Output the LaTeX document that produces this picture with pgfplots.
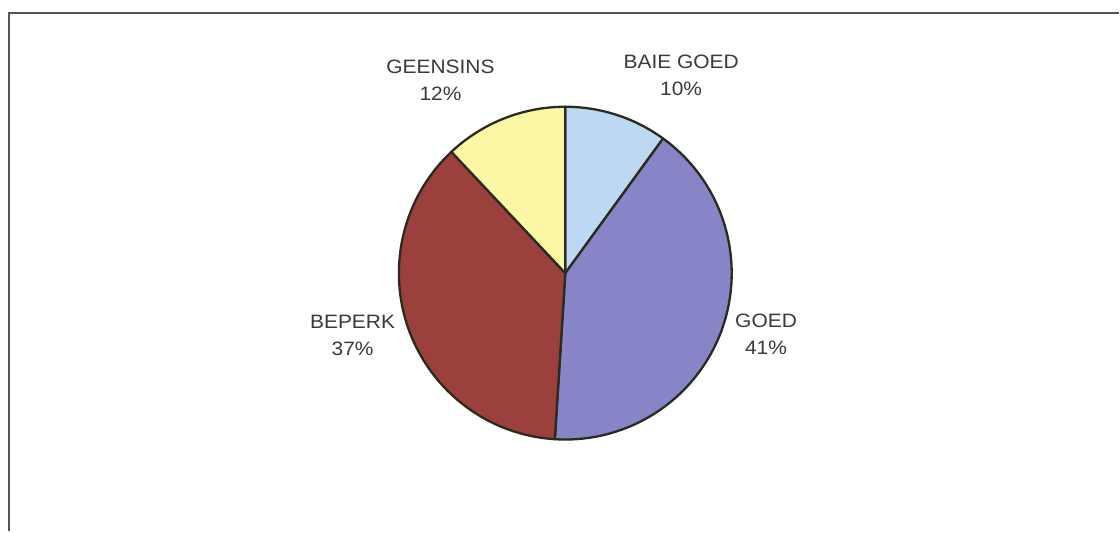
\documentclass[border=0pt]{standalone}
\usepackage{pgfplots}
\pgfplotsset{compat=1.18}
\usepackage{fontspec}
\setmainfont{Liberation Sans}
\definecolor{cBaie}{HTML}{BCD8F2}
\definecolor{cGoed}{HTML}{8784C8}
\definecolor{cBeperk}{HTML}{9B403D}
\definecolor{cGeen}{HTML}{FBF7A4}
\definecolor{edge}{HTML}{2A2A1E}
\definecolor{frame}{HTML}{55554C}
\definecolor{txt}{HTML}{3A3A3A}
\begin{document}
\begin{tikzpicture}
\begin{axis}[x=0.5pt,y=0.5pt,xmin=0,xmax=1120,ymin=0,ymax=532,hide axis,clip=false,scale only axis]
\fill[white] (axis cs:0,0) rectangle (axis cs:1120,532);
\draw[line width=1.4pt, color=frame] (axis cs:9,0) -- (axis cs:9,519) -- (axis cs:1120,519);
% shares: BAIE GOED 10, GOED 41, BEPERK 37, GEENSINS 12 (clockwise from top)
\filldraw[fill=cBaie, draw=edge, line width=1.15pt, line join=round] (axis cs:566,258.5) -- ++(90:83.3pt) arc[start angle=90,end angle=54,radius=83.3pt] -- cycle;
\filldraw[fill=cGoed, draw=edge, line width=1.15pt, line join=round] (axis cs:566,258.5) -- ++(54:83.3pt) arc[start angle=54,end angle=-93.6,radius=83.3pt] -- cycle;
\filldraw[fill=cBeperk, draw=edge, line width=1.15pt, line join=round] (axis cs:566,258.5) -- ++(-93.6:83.3pt) arc[start angle=-93.6,end angle=-226.8,radius=83.3pt] -- cycle;
\filldraw[fill=cGeen, draw=edge, line width=1.15pt, line join=round] (axis cs:566,258.5) -- ++(-226.8:83.3pt) arc[start angle=-226.8,end angle=-270,radius=83.3pt] -- cycle;
\tikzset{lab/.style={align=center, text=txt, font=\fontsize{9.7}{13.5}\selectfont, xscale=1.08, inner sep=0pt}}
\node[lab] at (axis cs:441,451.5) {GEENSINS\\12\%};
\node[lab] at (axis cs:682,456.5) {BAIE GOED\\10\%};
\node[lab] at (axis cs:353,196.5) {BEPERK\\37\%};
\node[lab] at (axis cs:767,197) {GOED\\41\%};
\end{axis}
\end{tikzpicture}
\end{document}
